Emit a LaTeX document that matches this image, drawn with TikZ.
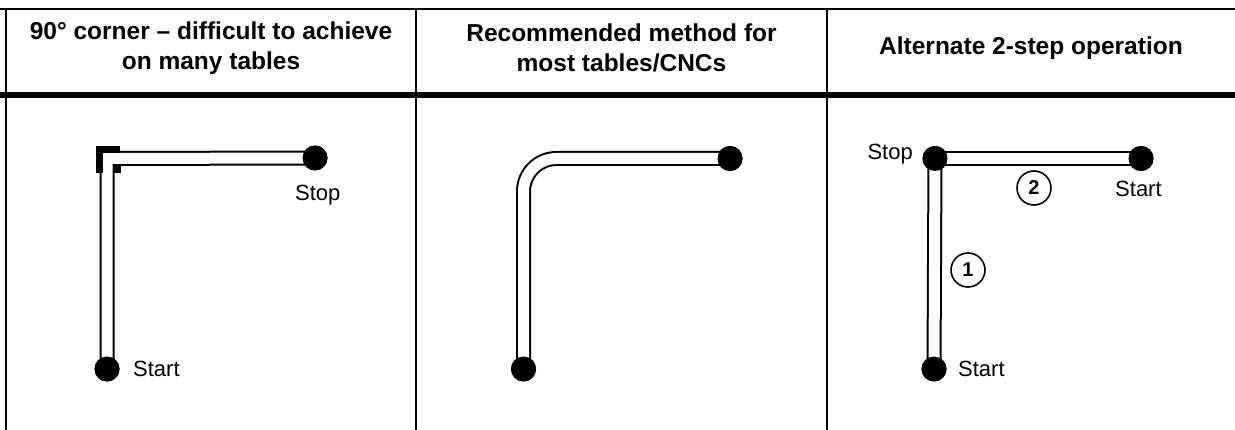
\documentclass[tikz,border=0pt]{standalone}
\usepackage{fontspec}
\setmainfont{Liberation Sans}
\begin{document}
\begin{tikzpicture}[x=1pt,y=-1pt,
  rule/.style={line width=1.5pt},
  dot/.style={circle,fill=black,inner sep=0pt,minimum size=25pt},
  hdr/.style={align=center,font=\bfseries\fontsize{24.5}{30}\selectfont},
  lbl/.style={font=\fontsize{22}{26}\selectfont,inner sep=0pt},
  circnum/.style={circle,draw,line width=1.6pt,inner sep=0pt,minimum size=34pt,font=\bfseries\fontsize{20}{20}\selectfont},
  tubeout/.style={line width=15pt,black},
  tubein/.style={line width=11pt,white}]
\useasboundingbox (0,0) rectangle (1235,430);
% table lines
\draw[rule] (0,9) -- (1235,9);
\draw[line width=6pt] (0,95) -- (1235,95);
\draw[rule] (6,9) -- (6,430);
\draw[rule] (416,9) -- (416,430);
\draw[rule] (827,9) -- (827,430);
% headers
\node[hdr] (h1) at (211,48) {90° corner – difficult to achieve\\on many tables};
\node[hdr] (h2) at (621.5,48) {Recommended method for\\most tables/CNCs};
\node[hdr] (h3) at (1031,48) {Alternate 2-step operation};
% panel 1
\node[dot] (p1start) at (107,369) {};
\node[dot] (p1stop) at (315,158) {};
\coordinate (p1c) at (107,158.5);
\draw[tubeout,line join=miter] (p1start.center) -- (p1c) -- (p1stop.center);
\draw[tubein,line join=miter] (p1start.center) -- (p1c) -- (p1stop.center);
\fill (96,146) rectangle (120,153);
\fill (96,146) rectangle (103,173);
\fill (114,164) rectangle (121,173);
\node[dot] at (p1start) {};
\node[dot] at (p1stop) {};
\node[lbl,anchor=west] (t1a) at (133,369) {Start};
\node[lbl,anchor=west] (t1b) at (295,195) {Stop};
% panel 2
\node[dot] (p2start) at (523.5,369) {};
\node[dot] (p2stop) at (730,158.5) {};
\coordinate (p2c) at (523.5,158.5);
\draw[tubeout,rounded corners=33pt] (p2start.center) -- (p2c) -- (p2stop.center);
\draw[tubein,rounded corners=33pt] (p2start.center) -- (p2c) -- (p2stop.center);
\node[dot] at (p2start) {};
\node[dot] at (p2stop) {};
% panel 3
\node[dot] (p3start) at (934,369) {};
\node[dot] (p3stop) at (935,158.5) {};
\node[dot] (p3start2) at (1141,158.5) {};
\draw[tubeout] (p3start.center) -- (p3stop.center);
\draw[tubein] (p3start.center) -- (p3stop.center);
\draw[tubeout] (p3stop.center) -- (p3start2.center);
\draw[tubein] (p3stop.center) -- (p3start2.center);
\node[dot] at (p3start) {};
\node[dot] at (p3stop) {};
\node[dot] at (p3start2) {};
\node[lbl,anchor=east] (t3a) at (913,154) {Stop};
\node[lbl,anchor=west] (t3b) at (1115,189) {Start};
\node[lbl,anchor=west] (t3c) at (958,369) {Start};
\node[circnum] (c2) at (1034,188) {2};
\node[circnum] (c1) at (968,270) {1};
\end{tikzpicture}
\end{document}
